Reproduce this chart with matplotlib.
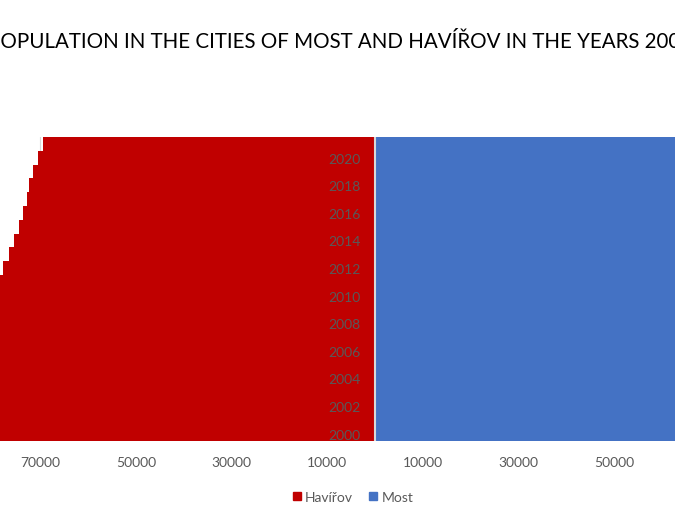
import matplotlib.pyplot as plt
from matplotlib.patches import Patch

plt.rcParams['font.family'] = ['Lato', 'DejaVu Sans']

# Population by year, Havířov drawn to the left (negative), Most to the right
years = list(range(2000, 2022))
havirov = [85855, 85476, 85095, 84648, 84285, 84098, 83715, 83340, 82896, 82583, 82022,
           78800, 77760, 76500, 75520, 74480, 73700, 72870, 72300, 71600, 70440, 69400]
most = [68263, 68022, 67905, 67818, 67740, 67610, 67520, 67380, 67240, 67089, 66950,
        66820, 66640, 66510, 66400, 66250, 66080, 65880, 65640, 65380, 64850, 64125]

red = '#C00000'
blue = '#4472C4'
grey = '#595959'

fig = plt.figure(figsize=(6.75, 5.1), dpi=100)
ax = fig.add_axes([0.0, 0.1343, 1.0, 0.5951])

pos = range(len(years))
ax.barh(pos, [-v for v in havirov], height=1.0, color=red, zorder=1)
ax.barh(pos, most, height=1.0, color=blue, zorder=1)

# light vertical gridlines kept behind the bars
xticks = [-70000, -50000, -30000, -10000, 10000, 30000, 50000]
for t in xticks:
    ax.axvline(t, color='#d9d9d9', lw=0.8, zorder=0)
ax.axvline(0, color='#d9d9d9', lw=1.5, zorder=2)

ax.set_xticks(xticks)
ax.set_xticklabels([str(abs(t)) for t in xticks])
ax.set_yticks(list(pos)[::2])
ax.set_yticklabels([str(y) for y in years[::2]])

ax.set_xlim(-78452, 62762)
ax.set_ylim(-0.5, len(years) - 0.5)

# year labels sit along the zero line
ax.spines['left'].set_position(('data', 0))
for s in ax.spines.values():
    s.set_visible(False)
ax.tick_params(axis='both', length=0, labelsize=10, labelcolor=grey)
ax.tick_params(axis='y', pad=10.5)
ax.tick_params(axis='x', pad=11)

fig.text(368 / 675, 0.9065,
         'POPULATION IN THE CITIES OF MOST AND HAVÍŘOV IN THE YEARS 2000-2021',
         ha='center', va='baseline', fontsize=14.8, color='black')

handles = [Patch(color=red, label='Havířov'), Patch(color=blue, label='Most')]
fig.legend(handles=handles, loc='center', bbox_to_anchor=(0.523, 0.0235), ncol=2,
           frameon=False, fontsize=10, labelcolor=grey,
           handlelength=0.58, handleheight=0.58, handletextpad=0.3, columnspacing=1.2)

fig.savefig('out.png', dpi=100)
